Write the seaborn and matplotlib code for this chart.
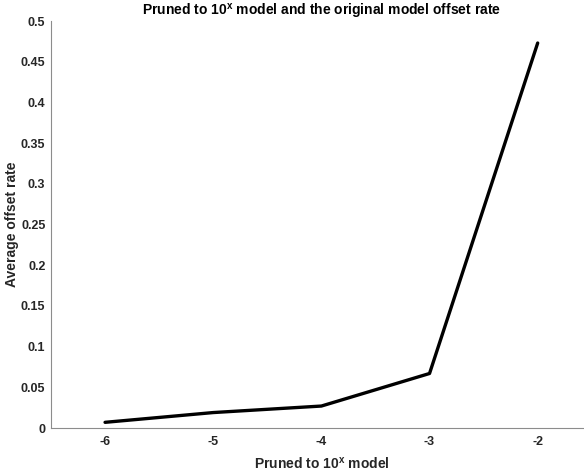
import matplotlib
matplotlib.use("Agg")
import matplotlib.pyplot as plt
import seaborn as sns
import pandas as pd

x_vals = [-6, -5, -4, -3, -2]
offset_rate = [0.007, 0.019, 0.027, 0.067, 0.473]
x_ticks = [-6, -5, -4, -3, -2]
y_ticks = [0, 0.05, 0.1, 0.15, 0.2, 0.25, 0.3, 0.35, 0.4, 0.45, 0.5]
y_tick_labels = ["0", "0.05", "0.1", "0.15", "0.2", "0.25", "0.3", "0.35", "0.4", "0.45", "0.5"]

sns.set_style("white")
plt.rcParams['font.family'] = ['Liberation Sans', 'DejaVu Sans']
plt.rcParams['mathtext.fontset'] = 'custom'
plt.rcParams['mathtext.bf'] = 'Liberation Sans:bold'
plt.rcParams['mathtext.rm'] = 'Liberation Sans'

df = pd.DataFrame({"x": x_vals, "y": offset_rate})

fig = plt.figure(figsize=(5.84, 4.74), dpi=100)
ax = fig.add_axes([0.0873, 0.097, 0.926, 0.8586])
sns.lineplot(data=df, x="x", y="y", ax=ax, color="black", linewidth=2.4)

ax.set_xlim(-6.5, -1.5)
ax.set_ylim(0, 0.5)
ax.set_xticks(x_ticks)
ax.set_xticklabels([str(v) for v in x_ticks])
ax.set_yticks(y_ticks)
ax.set_yticklabels(y_tick_labels)

for s in ["top", "right"]:
    ax.spines[s].set_visible(False)
for s in ["left", "bottom"]:
    ax.spines[s].set_color("#8c8c8c")
    ax.spines[s].set_linewidth(0.8)

ax.tick_params(axis="both", direction="in", length=4, width=0.8, color="#8c8c8c",
               labelsize=9, labelcolor="#262626")
ax.tick_params(axis="y", pad=4)
ax.tick_params(axis="x", pad=6)
for lbl in ax.get_xticklabels() + ax.get_yticklabels():
    lbl.set_fontweight("bold")

ax.set_xlabel(r"Pruned to 10$^{\mathbf{x}}$ model", fontsize=10, fontweight="bold", color="#262626", labelpad=5)
ax.set_ylabel("Average offset rate", fontsize=10, fontweight="bold", color="#262626", labelpad=1)
ax.set_title(r"Pruned to 10$^{\mathbf{x}}$ model and the original model offset rate",
             fontsize=10, fontweight="bold", color="black", pad=4)

fig.savefig("out.png", dpi=100)
